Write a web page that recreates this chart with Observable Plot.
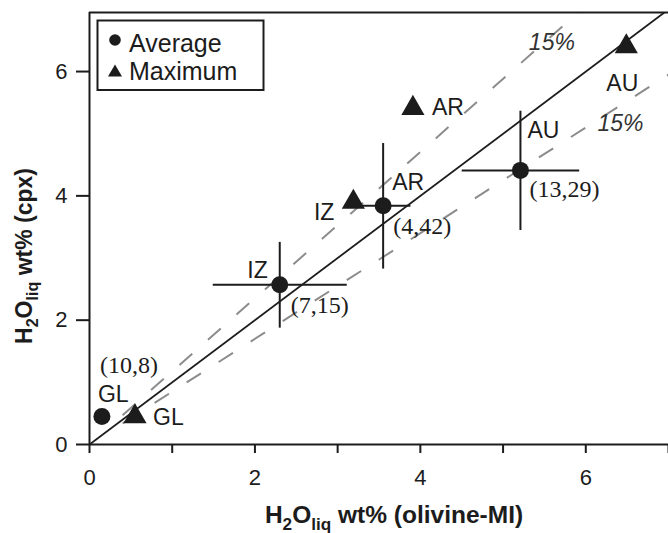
<!DOCTYPE html>
<html><head><meta charset="utf-8">
<script src="https://cdn.jsdelivr.net/npm/d3@7"></script>
<script src="https://cdn.jsdelivr.net/npm/@observablehq/plot@0.6"></script>
<style>body{margin:0;background:#fff} #chart svg{display:block}</style>
</head><body><div id="chart"></div>
<script>
// ---- data ----
const groups = ["GL", "IZ", "AR", "AU"];
const avgX = [0.15, 2.30, 3.55, 5.21];
const avgY = [0.45, 2.57, 3.84, 4.41];
const avgXErr = [0, 0.81, 0.33, 0.71];
const avgYErr = [0, 0.69, 1.01, 0.96];
const counts = ["(10,8)", "(7,15)", "(4,42)", "(13,29)"];
const maxX = [0.55, 3.19, 3.91, 6.49];
const maxY = [0.45, 3.90, 5.41, 6.40];
const xTicks = [0, 1, 2, 3, 4, 5, 6, 7];
const yTicks = [0, 2, 4, 6];
const bandRatios = [0.85, 1 / 0.85];   // ±15% envelopes
const bandLabels = ["15%", "15%"];
const xDomain = [0, 7];
const yDomain = [0, 6.95];

// ---- layout (offsets in pixels, annotation anchors in data units) ----
const bandStart = 0.4;
const bandLabelPos = [{x: 6.42, y: 5.04}, {x: 5.59, y: 6.34}];
const avgOff = {GL: {dx: -4, dy: -15, a: "start"}, IZ: {dx: -12, dy: -7, a: "end"}, AR: {dx: 9, dy: -16, a: "start"}, AU: {dx: 7, dy: -32, a: "start"}};
const cntOff = {GL: {dx: -2, dy: -44}, IZ: {dx: 11, dy: 28}, AR: {dx: 10, dy: 28}, AU: {dx: 9, dy: 27}};
const maxOff = {GL: {dx: 18, dy: 8.5, a: "start"}, IZ: {dx: -19, dy: 18, a: "end"}, AR: {dx: 19, dy: 7, a: "start"}, AU: {dx: -4, dy: 44, a: "middle"}};

const ink = "#1c1c1c";
const sans = "'Liberation Sans', Arial, Helvetica, sans-serif";
const serif = "'Liberation Serif', 'Times New Roman', serif";

const avg = groups.map((g, i) => ({g, x: avgX[i], y: avgY[i], xe: avgXErr[i], ye: avgYErr[i], n: counts[i]}));
const mx = groups.map((g, i) => ({g, x: maxX[i], y: maxY[i]}));
const errs = avg.filter(d => d.xe > 0);
const bands = bandRatios.map((r, i) => ({r, label: bandLabels[i], ...bandLabelPos[i]}));

const labelMarks = [];
for (const d of avg) {
  const o = avgOff[d.g], c = cntOff[d.g];
  labelMarks.push(Plot.text([d], {x: "x", y: "y", text: "g", dx: o.dx, dy: o.dy, textAnchor: o.a, lineAnchor: "bottom", fontSize: 23, fontFamily: sans, fill: ink}));
  labelMarks.push(Plot.text([d], {x: "x", y: "y", text: "n", dx: c.dx, dy: c.dy, textAnchor: "start", lineAnchor: "bottom", fontSize: 24, fontFamily: serif, fill: ink}));
}
for (const d of mx) {
  const o = maxOff[d.g];
  labelMarks.push(Plot.text([d], {x: "x", y: "y", text: "g", dx: o.dx, dy: o.dy, textAnchor: o.a, lineAnchor: "bottom", fontSize: 23, fontFamily: sans, fill: ink}));
}

const plot = Plot.plot({
  width: 668, height: 533,
  marginLeft: 89, marginRight: 0, marginTop: 12, marginBottom: 89,
  style: {fontFamily: sans, fontSize: "22px", color: ink, background: "#fff", overflow: "visible"},
  x: {domain: xDomain, label: null, axis: null},
  y: {domain: yDomain, label: null, axis: null},
  marks: [
    Plot.link(bands, {x1: () => bandStart, y1: d => bandStart * d.r, x2: () => xDomain[1], y2: d => xDomain[1] * d.r,
      stroke: "#8c8c8c", strokeWidth: 2, strokeDasharray: "17,21", clip: true}),
    Plot.link([0], {x1: () => 0, y1: () => 0, x2: () => xDomain[1], y2: () => xDomain[1], stroke: ink, strokeWidth: 1.8, clip: true}),
    Plot.link(errs, {x1: d => d.x - d.xe, x2: d => d.x + d.xe, y1: "y", y2: "y", stroke: ink, strokeWidth: 2}),
    Plot.link(errs, {x1: "x", x2: "x", y1: d => d.y - d.ye, y2: d => d.y + d.ye, stroke: ink, strokeWidth: 2}),
    Plot.dot(avg, {x: "x", y: "y", r: 8.5, fill: ink, stroke: "none"}),
    Plot.dot(mx, {x: "x", y: "y", r: 8.6, symbol: "triangle", fill: ink, stroke: "none"}),
    Plot.text(bands, {x: "x", y: "y", text: "label", fontSize: 23, fontStyle: "italic", fontFamily: sans, fill: "#333", lineAnchor: "bottom"}),
    ...labelMarks,
    Plot.ruleX([xDomain[0]], {stroke: ink, strokeWidth: 2}),
    Plot.ruleY([yDomain[0]], {stroke: ink, strokeWidth: 2}),
    Plot.ruleY([yDomain[1]], {stroke: ink, strokeWidth: 2}),
    Plot.axisX(xTicks, {tickSize: 9, tickPadding: 16, tickFormat: d => d % 2 ? "" : String(d), fontSize: 22, strokeWidth: 2, label: null}),
    Plot.axisY(yTicks, {tickSize: 13, tickPadding: 9, tickFormat: d => String(d), fontSize: 22, strokeWidth: 2, label: null})
  ]
});
document.getElementById("chart").appendChild(plot);

// ---- axis titles with subscripts, and legend ----
const svg = d3.select(plot);
function title(g, parts, size) {
  const t = g.append("text").attr("text-anchor", "middle").attr("font-family", sans).attr("font-weight", "bold")
    .attr("font-size", size).attr("fill", ink);
  let shift = 0;
  for (const [s, sub] of parts) {
    const want = sub ? 0.28 * size : 0;
    t.append("tspan").attr("dy", want - shift).attr("font-size", sub ? size * 0.7 : size).text(s);
    shift = want;
  }
  return t;
}
const parts = (rest) => [["H", false], ["2", true], ["O", false], ["liq", true], [rest, false]];
title(svg.append("g").attr("transform", "translate(394,523)"), parts(" wt% (olivine-MI)"), 24.5);
title(svg.append("g").attr("transform", "translate(32,256) rotate(-90)"), parts(" wt% (cpx)"), 23);

const lg = svg.append("g").attr("text-anchor", "start");
lg.append("rect").attr("x", 97.5).attr("y", 20.5).attr("width", 166).attr("height", 69.5)
  .attr("fill", "#fff").attr("stroke", ink).attr("stroke-width", 2);
lg.append("circle").attr("cx", 115).attr("cy", 40).attr("r", 5.8).attr("fill", ink);
lg.append("path").attr("transform", "translate(115,72.5)").attr("d", d3.symbol(d3.symbolTriangle, 85)()).attr("fill", ink);
lg.append("text").attr("x", 129).attr("y", 52).attr("text-anchor", "start").attr("font-family", sans).attr("font-size", 25).attr("fill", ink).text("Average");
lg.append("text").attr("x", 129).attr("y", 80).attr("text-anchor", "start").attr("font-family", sans).attr("font-size", 25).attr("fill", ink).text("Maximum");
</script>
</body></html>
